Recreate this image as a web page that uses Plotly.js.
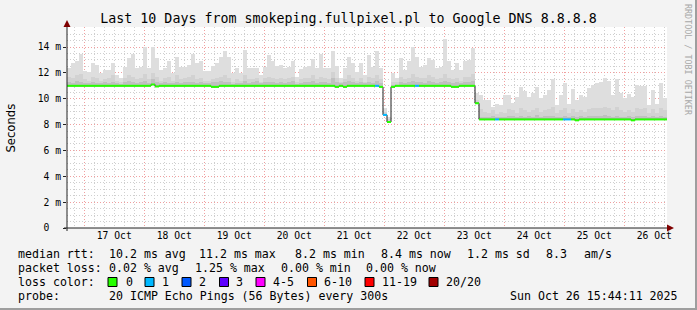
<!DOCTYPE html>
<html><head><meta charset="utf-8">
<script src="https://cdn.plot.ly/plotly-3.0.1.min.js"></script>
<style>html,body{margin:0;padding:0;background:#f3f3f3}#chart{width:697px;height:310px}</style>
</head><body><div id="chart"></div>
<script>
// ---- data (milliseconds, one bucket = 96 minutes) ----
const startTime = [2025, 9, 16, 17, 5];   // 16 Oct 2025 17:05
const bucketMinutes = 96;
const bucketCount = 150;

const medianRtt = [
 11.0,11.0,11.0,11.0,11.0,11.0,11.0,11.0,11.0,11.0,
 11.0,11.0,11.0,11.0,11.0,11.0,11.0,11.0,11.0,11.0,
 11.0,11.1,10.95,11.0,11.0,11.0,11.0,11.0,11.0,11.0,
 11.0,11.0,11.0,11.0,11.0,11.0,10.92,10.92,11.0,11.0,
 11.0,11.0,11.0,11.0,11.0,11.0,11.0,11.0,11.0,11.0,
 11.0,11.0,11.0,11.0,11.0,11.0,11.0,11.0,11.0,11.0,
 11.0,11.0,11.0,11.0,11.0,11.0,11.0,10.92,11.0,10.92,
 11.0,11.0,11.0,11.0,11.0,11.0,11.0,11.0,10.92,8.75,
 8.2,10.92,11.0,11.0,11.0,11.0,11.0,11.0,11.0,11.0,
 11.0,11.0,11.0,11.0,11.0,11.0,10.92,10.92,11.0,11.0,
 11.0,11.0,9.65,8.4,8.4,8.4,8.4,8.4,8.4,8.4,
 8.4,8.4,8.4,8.4,8.4,8.4,8.4,8.4,8.4,8.4,
 8.4,8.4,8.4,8.4,8.4,8.4,8.4,8.33,8.4,8.4,
 8.4,8.4,8.4,8.4,8.4,8.4,8.4,8.4,8.4,8.4,
 8.4,8.33,8.4,8.4,8.4,8.4,8.4,8.4,8.4,8.4
];
const smokeMax = [
 12.36,12.75,12.9,13.44,12.15,12.1,12.8,12.6,11.97,12.23,
 12.23,12.8,11.84,11.6,12.44,13.13,13.44,12.4,12.49,14.0,
 12.36,14.03,13.13,12.23,12.36,12.9,11.97,13.26,12.44,12.44,
 12.6,13.5,12.75,12.9,12.15,12.15,12.55,12.75,13.2,13.7,
 13.2,11.97,12.36,11.97,13.8,12.36,12.36,12.36,11.84,12.49,
 13.4,12.9,12.5,12.6,12.4,12.49,12.95,11.7,12.3,12.49,
 12.5,13.1,12.36,13.5,12.36,12.36,13.7,12.5,11.6,12.4,
 13.26,12.75,12.1,12.75,11.84,13.4,12.49,13.7,12.36,9.3,
 8.6,11.97,11.6,13.13,12.2,12.9,14.0,13.26,12.49,12.6,
 13.13,13.0,12.36,12.49,14.6,12.9,12.23,12.8,12.23,12.9,
 13.0,13.9,10.42,10.3,9.91,9.91,9.4,9.6,9.5,10.3,
 10.29,9.7,10.16,10.94,10.6,10.16,10.42,10.94,10.04,10.3,
 10.68,11.49,9.52,10.29,11.18,9.6,10.76,9.91,10.29,10.16,
 10.81,11.07,11.18,11.3,11.6,11.4,10.29,11.56,10.42,10.04,
 10.34,10.16,11.07,11.01,11.01,9.52,10.68,9.6,11.18,10.08
];
const smokeMid = [
 11.7,11.6,11.8,11.9,11.5,11.4,11.7,11.6,11.4,11.5,
 11.6,11.8,11.4,11.3,11.6,11.8,11.7,11.5,11.6,11.9,
 11.5,12.0,11.7,11.4,11.6,11.7,11.4,11.8,11.5,11.6,
 11.7,11.8,11.5,11.6,11.4,11.4,11.5,11.6,11.7,11.8,
 11.6,11.3,11.5,11.4,11.8,11.5,11.5,11.6,11.3,11.6,
 11.7,11.6,11.5,11.6,11.5,11.6,11.7,11.3,11.5,11.6,
 11.6,11.8,11.5,11.7,11.6,11.5,12.1,11.6,11.3,11.5,
 11.8,11.6,11.4,11.6,11.3,11.7,11.6,11.8,11.5,9.0,
 8.4,11.3,11.3,11.7,11.5,11.6,11.9,11.7,11.6,11.6,
 11.8,11.7,11.5,11.6,11.9,11.6,11.5,11.6,11.4,11.7,
 11.7,11.9,9.9,9.2,9.0,8.9,9.1,8.8,9.0,8.9,
 9.2,9.1,8.9,9.3,9.1,9.0,9.1,9.3,9.0,9.1,
 9.2,9.4,8.9,9.1,9.3,8.9,9.2,9.0,9.1,9.0,
 9.2,9.3,9.3,9.3,9.4,9.3,9.1,9.4,9.1,9.0,
 9.1,9.0,9.3,9.2,9.3,8.9,9.2,8.9,9.3,9.1
];
const smokeDark = [
 11.3,11.2,11.4,11.3,11.2,11.2,11.3,11.2,11.2,11.3,
 11.2,11.3,11.2,11.15,11.3,11.4,11.3,11.2,11.3,11.4,
 11.2,11.5,11.3,11.2,11.3,11.2,11.2,11.3,11.2,11.3,
 11.3,11.3,11.2,11.3,11.2,11.2,11.3,11.3,11.4,11.3,
 11.3,11.15,11.2,11.2,11.4,11.2,11.3,11.4,11.2,11.3,
 11.3,11.3,11.2,11.3,11.2,11.3,11.4,11.15,11.2,11.3,
 11.3,11.4,11.2,11.3,11.3,11.2,11.6,11.3,11.2,11.3,
 11.4,11.3,11.2,11.3,11.2,11.3,11.2,11.4,11.2,8.85,
 8.3,11.1,11.1,11.3,11.2,11.3,11.4,11.3,11.3,11.2,
 11.4,11.3,11.2,11.3,11.4,11.3,11.2,11.3,11.2,11.3,
 11.3,11.4,9.75,8.6,8.55,8.6,8.7,8.55,8.6,8.6,
 8.7,8.65,8.55,8.7,8.6,8.65,8.6,8.75,8.6,8.65,
 8.7,8.7,8.55,8.6,8.7,8.6,8.65,8.6,8.7,8.6,
 8.65,8.7,8.7,8.7,8.75,8.7,8.6,8.7,8.6,8.6,
 8.65,8.6,8.7,8.65,8.7,8.55,8.7,8.55,8.7,8.6
];
const lossCount = [
 0,0,0,0,0,0,0,0,0,0, 0,0,0,0,0,0,0,0,0,0,
 0,0,0,0,0,0,0,0,0,0, 0,0,0,0,0,0,0,0,0,0,
 0,0,0,0,0,0,0,0,0,0, 0,0,0,0,0,0,0,0,0,0,
 0,0,0,0,0,0,0,0,0,0, 0,0,0,0,0,0,0,1,0,1,
 0,0,0,0,0,0,0,1,0,0, 0,0,0,0,0,0,0,0,0,0,
 0,0,0,0,0,0,0,1,0,0, 0,0,0,0,0,0,0,0,0,0,
 0,0,0,0,1,1,0,0,0,0, 0,0,0,0,0,0,0,0,0,0,
 0,0,0,0,0,0,0,0,0,0
];
const lossLabels = ['0','1','2','3','4-5','6-10','11-19','20/20'];
const lossColors = ['#26ff00','#00b8ff','#0059ff','#5e00ff','#ff00ff','#ff5500','#ff0000','#a10000'];
const lossUpper  = [0,1,2,3,5,10,19,20];
const yTickVals = [0,2,4,6,8,10,12,14];
const yTickText = ['0\u00a0\u00a0','2 m','4 m','6 m','8 m','10 m','12 m','14 m'];

// ---- helpers ----
const MIN = 60000;
const t0 = Date.UTC(...startTime);
const fmt = ms => new Date(ms).toISOString().slice(0,19).replace('T',' ');
const bucketStart = i => t0 + i*bucketMinutes*MIN;
const tEnd = bucketStart(bucketCount);
const idx = medianRtt.map((_, i) => i);
const centers = idx.map(i => fmt(bucketStart(i) + bucketMinutes*MIN/2));
const barW = bucketMinutes*MIN;

// plot area in pixels
const L = 67, R = 667, T = 27, B = 228;
const px = p => (p - L)/(R - L);
const py = p => (B - p)/(B - T);

const smokeBar = (tops, color) => ({
  type:'bar', x: centers, base: medianRtt, y: tops.map((v,i)=>v - medianRtt[i]),
  width: barW, marker:{color: color, line:{width:0}}, hoverinfo:'skip', showlegend:false
});

const traces = [
  smokeBar(smokeMax, '#dedede'),
  smokeBar(smokeMid, '#d2d2d2'),
  smokeBar(smokeDark, '#c0c0c0'),
  { type:'scatter', mode:'lines',
    x: idx.map(i=>fmt(bucketStart(i))).concat([fmt(tEnd)]),
    y: medianRtt.concat([medianRtt[medianRtt.length-1]]),
    line:{shape:'hv', color:'#202020', width:1}, hoverinfo:'skip', showlegend:false }
];
lossColors.forEach((c, k) => {
  const xs = [], ys = [];
  idx.forEach(i => {
    const cls = lossUpper.findIndex(u => lossCount[i] <= u);
    if (cls === k) {
      xs.push(fmt(bucketStart(i)), fmt(bucketStart(i+1)), null);
      ys.push(medianRtt[i], medianRtt[i], null);
    }
  });
  if (xs.length) traces.push({type:'scatter', mode:'lines', x:xs, y:ys,
    line:{color:c, width:2}, hoverinfo:'skip', showlegend:false});
});

const mono = 'DejaVu Sans Mono';
const shapes = [
  {type:'line', xref:'paper', yref:'paper', x0:px(67), x1:px(67), y0:py(231), y1:py(24), line:{color:'#222', width:1}},
  {type:'line', xref:'paper', yref:'paper', x0:px(64), x1:px(670), y0:py(228), y1:py(228), line:{color:'#222', width:1}},
  {type:'path', xref:'paper', yref:'paper', fillcolor:'#7f0000', line:{width:0},
   path:`M ${px(63.5)} ${py(27)} L ${px(70.5)} ${py(27)} L ${px(67)} ${py(20)} Z`},
  {type:'path', xref:'paper', yref:'paper', fillcolor:'#7f0000', line:{width:0},
   path:`M ${px(667)} ${py(224.5)} L ${px(667)} ${py(231.5)} L ${px(674)} ${py(228)} Z`},
  {type:'line', xref:'paper', yref:'paper', x0:px(696), x1:px(696), y0:py(0), y1:py(310), line:{color:'#9e9e9e', width:2}},
  {type:'line', xref:'paper', yref:'paper', x0:px(0), x1:px(697), y0:py(309), y1:py(309), line:{color:'#9e9e9e', width:2}}
];
const boxX = [108,145,182,219.5,256,307.5,365,429];
const boxLabelX = [123.5,160,197,234,271,322,380,444];
boxX.forEach((bx,k) => shapes.push({type:'rect', xref:'paper', yref:'paper',
  x0:px(bx), x1:px(bx+9), y0:py(277.5), y1:py(286.5), fillcolor: lossColors[k], line:{color:'#000', width:1}}));

const ann = (text, x, y, opts={}) => Object.assign({text, xref:'paper', yref:'paper', x:px(x), y:py(y),
  xanchor:'left', yanchor:'middle', showarrow:false, font:{family:mono, size:11.6, color:'#000'}}, opts);
const annotations = [
  ann('median rtt:',16,254), ann('10.2 ms avg',107,254), ann('11.2 ms max',197,254),
  ann('8.2 ms min',293,254), ann('8.4 ms now',379,254), ann('1.2 ms sd',465,254),
  ann('8.3',544,254), ann('am/s',582,254),
  ann('packet loss:',16,268), ann('0.02 % avg',107,268), ann('1.25 % max',193,268),
  ann('0.00 % min',279,268), ann('0.00 % now',364,268),
  ann('loss color:',16,282),
  ann('probe:',16,296), ann('20 ICMP Echo Pings (56 Bytes) every 300s',107,296),
  ann('Sun Oct 26 15:44:11 2025',680,296,{xanchor:'right'}),
  ann('Seconds',10.5,128,{xanchor:'center', textangle:-90, font:{family:'DejaVu Sans', size:11.6, color:'#000'}}),
  ann('RRDTOOL / TOBI OETIKER',688,60,{xanchor:'center', textangle:90, font:{family:mono, size:8.4, color:'#a8a8a8'}})
];
lossLabels.forEach((lb,k) => annotations.push(ann(lb, boxLabelX[k], 282)));

const layout = {
  width:697, height:310,
  margin:{l:L, r:697-R, t:T, b:310-B, pad:0},
  paper_bgcolor:'#f3f3f3', plot_bgcolor:'#ffffff',
  barmode:'overlay', bargap:0,
  title:{text:'Last 10 Days from smokeping.fullpixel.pl to Google DNS 8.8.8.8',
    x:0.5, xref:'container', xanchor:'center', y:1-18/310, yref:'container', yanchor:'middle',
    font:{family:mono, size:13.3, color:'#000'}},
  xaxis:{type:'date', range:[fmt(t0), fmt(tEnd)], tick0:'2025-10-17', dtick:86400000,
    ticklabelmode:'period', tickformat:'%-d %b', ticks:'', 
    tickfont:{family:mono, size:9.7, color:'#000'},
    showgrid:true, gridcolor:'#f0a0a0', griddash:'1px,2px', gridwidth:1,
    minor:{dtick:4*3600000, showgrid:true, gridcolor:'#cfcfcf', griddash:'1px,2px', gridwidth:1},
    showline:false, zeroline:false, fixedrange:true},
  yaxis:{range:[0,15.55], tickvals:yTickVals, ticktext:yTickText, ticks:'outside', ticklen:3, tickcolor:'#222',
    tickfont:{family:mono, size:9.7, color:'#000'},
    showgrid:true, gridcolor:'#f0a0a0', griddash:'1px,2px', gridwidth:1,
    minor:{dtick:0.5, showgrid:true, gridcolor:'#cfcfcf', griddash:'1px,2px', gridwidth:1},
    showline:false, zeroline:false, fixedrange:true},
  shapes, annotations, showlegend:false
};
Plotly.newPlot('chart', traces, layout, {staticPlot:true, displayModeBar:false});
</script></body></html>
